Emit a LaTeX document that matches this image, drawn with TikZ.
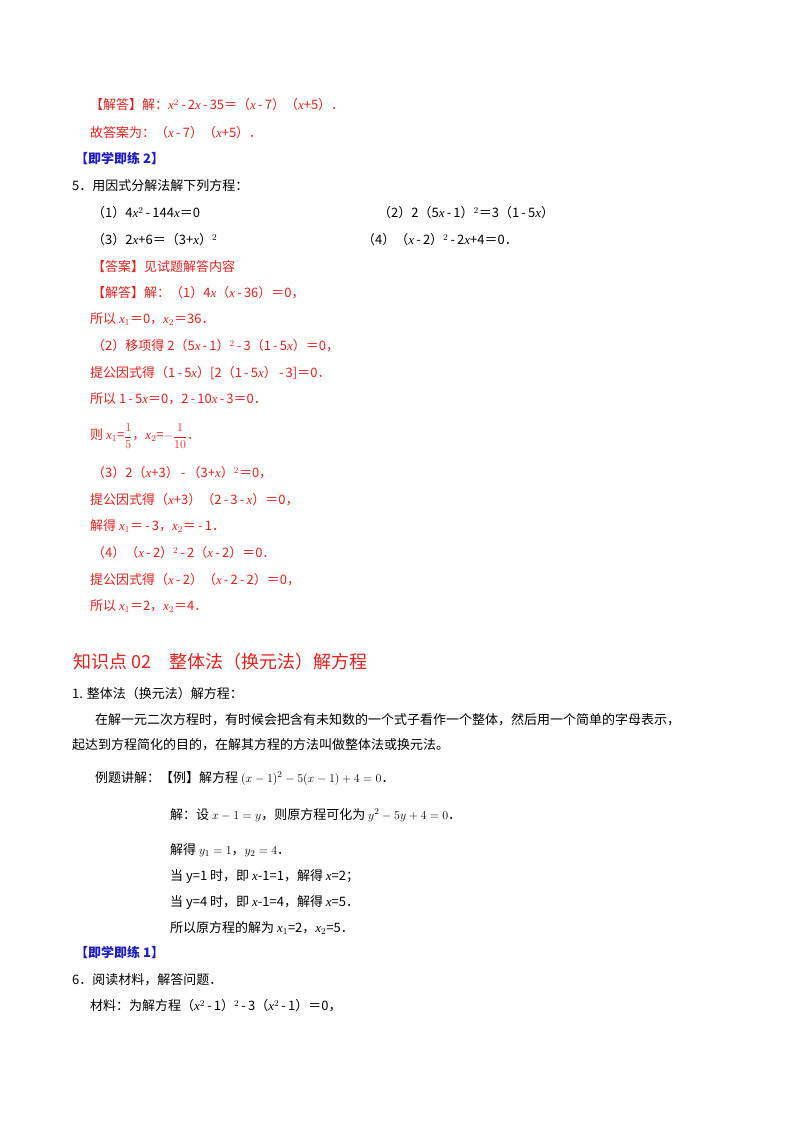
\documentclass[tikz,border=0pt]{standalone}
\usepackage{amsmath}
\usepackage{fontspec}
\setmainfont{Noto Sans CJK SC}
\newfontfamily\lser{Liberation Serif}
\newcommand{\vx}{{\lser\itshape x}}
\newcommand{\vy}{{\lser\itshape y}}
\newcommand{\mi}{\,-\,}
\definecolor{ansred}{RGB}{235,30,30}
\definecolor{hdblue}{RGB}{30,30,200}
\tikzset{
  txt/.style={anchor=west,inner sep=0pt,font=\fontsize{13}{15}\selectfont,text=black},
  red/.style={txt,text=ansred},
  blu/.style={txt,text=hdblue,font=\fontsize{13}{15}\selectfont\bfseries},
  head/.style={anchor=west,inner sep=0pt,font=\fontsize{18}{20}\selectfont,text=ansred}
}
\begin{document}
\begin{tikzpicture}[x=1pt,y=-1pt]
\useasboundingbox (0,0) rectangle (800,1132);
\node[red] (l1) at (90,105) {【解答】解：\vx$^2$\mi2\vx\mi35＝（\vx\mi7）（\vx+5）．};
\node[red] (l2) at (90,133) {故答案为：（\vx\mi7）（\vx+5）．};
\node[blu] (l3) at (75,158) {【即学即练 2】};
\node[txt] (l4) at (72,186) {5．用因式分解法解下列方程：};
\node[txt] (l5a) at (92,213) {（1）4\vx$^2$\mi144\vx＝0};
\node[txt] (l5b) at (378,213) {（2）2（5\vx\mi1）$^2$＝3（1\mi5\vx）};
\node[txt] (l6a) at (92,240) {（3）2\vx+6＝（3+\vx）$^2$};
\node[txt] (l6b) at (362,240) {（4）（\vx\mi2）$^2$\mi2\vx+4＝0．};
\node[red] (a0) at (92,267) {【答案】见试题解答内容};
\node[red] (a1) at (92,293) {【解答】解：（1）4\vx（\vx\mi36）＝0，};
\node[red] (a2) at (90,319) {所以 \vx$_1$＝0，\vx$_2$＝36．};
\node[red] (a3) at (92,346) {（2）移项得 2（5\vx\mi1）$^2$\mi3（1\mi5\vx）＝0，};
\node[red] (a4) at (90,373) {提公因式得（1\mi5\vx）[2（1\mi5\vx）\mi3]＝0．};
\node[red] (a5) at (90,399) {所以 1\mi5\vx＝0，2\mi10\vx\mi3＝0．};
\node[red] (a6) at (90,436) {则 \vx$_1$=$\dfrac{1}{5}$，\vx$_2$=$-\dfrac{1}{10}$．};
\node[red] (a7) at (92,473) {（3）2（\vx+3）\mi（3+\vx）$^2$＝0，};
\node[red] (a8) at (90,500) {提公因式得（\vx+3）（2\mi3\mi\vx）＝0，};
\node[red] (a9) at (90,526) {解得 \vx$_1$＝\mi3，\vx$_2$＝\mi1．};
\node[red] (a10) at (92,553) {（4）（\vx\mi2）$^2$\mi2（\vx\mi2）＝0．};
\node[red] (a11) at (90,580) {提公因式得（\vx\mi2）（\vx\mi2\mi2）＝0，};
\node[red] (a12) at (90,606) {所以 \vx$_1$＝2，\vx$_2$＝4．};
\node[head] (h) at (73,662) {知识点 02\quad 整体法（换元法）解方程};
\node[txt] (b1) at (72,694) {1. 整体法（换元法）解方程：};
\node[txt] (b2) at (95,720) {在解一元二次方程时，有时候会把含有未知数的一个式子看作一个整体，然后用一个简单的字母表示，};
\node[txt] (b3) at (72,745) {起达到方程简化的目的，在解其方程的方法叫做整体法或换元法。};
\node[txt] (b4) at (95,778) {例题讲解：【例】解方程 $(x-1)^2-5(x-1)+4=0$．};
\node[txt] (b5) at (170,815) {解：设 $x-1=y$，则原方程可化为 $y^2-5y+4=0$．};
\node[txt] (b6) at (170,850) {解得 $y_1=1$，$y_2=4$．};
\node[txt] (b7) at (170,877) {当 y=1 时，即 \vx-1=1，解得 \vx=2；};
\node[txt] (b8) at (170,903) {当 y=4 时，即 \vx-1=4，解得 \vx=5．};
\node[txt] (b9) at (170,928) {所以原方程的解为 \vx$_1$=2，\vx$_2$=5．};
\node[blu] (c1) at (75,952) {【即学即练 1】};
\node[txt] (c2) at (72,980) {6．阅读材料，解答问题．};
\node[txt] (c3) at (90,1006) {材料：为解方程（\vx$^2$\mi1）$^2$\mi3（\vx$^2$\mi1）＝0，};
\end{tikzpicture}
\end{document}
